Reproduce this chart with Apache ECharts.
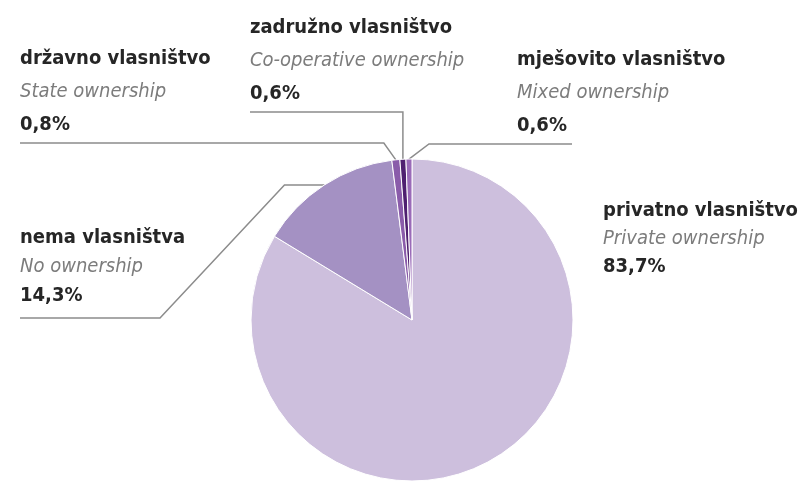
<!DOCTYPE html>
<html>
<head>
<meta charset="utf-8">
<script src="https://cdn.jsdelivr.net/npm/echarts@6/dist/echarts.min.js"></script>
<style>
html,body{margin:0;padding:0;background:#fff;}
#chart{width:799px;height:490px;}
</style>
</head>
<body>
<div id="chart"></div>
<script>
// Data
const namesHr = ['privatno vlasništvo', 'nema vlasništva', 'državno vlasništvo', 'zadružno vlasništvo', 'mješovito vlasništvo'];
const namesEn = ['Private ownership', 'No ownership', 'State ownership', 'Co-operative ownership', 'Mixed ownership'];
const values = [83.7, 14.3, 0.8, 0.6, 0.6];
const colors = ['#cdbfdd', '#a491c3', '#8a5caa', '#4f2070', '#9a6bb8'];

// Label layout (positions only)
const labelPos = [
  {x: 603, y: 197, lh: 28, line: 'none'},
  {x: 20, y: 223, lh: 29, line: 'nema'},
  {x: 20, y: 42, lh: 33, line: 'left'},
  {x: 250, y: 11, lh: 33, line: 'up'},
  {x: 517, y: 43, lh: 33, line: 'right'}
];

const FONT = "'Liberation Sans Narrow', 'DejaVu Sans Condensed', 'Roboto Condensed', sans-serif";
const fmtPct = v => v.toFixed(1).replace('.', ',') + '%';

const chart = echarts.init(document.getElementById('chart'), null, {renderer: 'canvas'});

const data = values.map((v, i) => ({
  value: v,
  name: namesHr[i],
  itemStyle: {color: colors[i]},
  labelLine: {show: labelPos[i].line !== 'none'},
  label: {
    rich: {
      a: {fontFamily: FONT, fontWeight: 'bold', fontSize: 20, color: '#262626', lineHeight: labelPos[i].lh},
      b: {fontFamily: FONT, fontStyle: 'italic', fontSize: 20, color: '#7c7c7c', lineHeight: labelPos[i].lh},
      c: {fontFamily: FONT, fontWeight: 'bold', fontSize: 20, color: '#262626', lineHeight: labelPos[i].lh}
    }
  }
}));

chart.setOption({
  animation: false,
  series: [{
    type: 'pie',
    center: [412, 320],
    radius: 161,
    startAngle: 90,
    clockwise: true,
    avoidLabelOverlap: false,
    itemStyle: {borderColor: '#ffffff', borderWidth: 1},
    label: {
      show: true,
      position: 'outside',
      align: 'left',
      formatter: p => '{a|' + namesHr[p.dataIndex] + '}\n{b|' + namesEn[p.dataIndex] + '}\n{c|' + fmtPct(values[p.dataIndex]) + '}'
    },
    labelLine: {show: true, lineStyle: {color: '#8c8c8c', width: 1.5}, length: 10, length2: 10},
    emphasis: {disabled: true},
    labelLayout: function (params) {
      const i = params.dataIndex;
      const lp = labelPos[i];
      const res = {x: lp.x, y: lp.y, align: 'left', verticalAlign: 'top'};
      const pts = params.labelLinePoints;
      if (pts && lp.line !== 'none') {
        const e = pts[0];
        const bottom = lp.y + lp.lh * 3 + 2;
        if (lp.line === 'left') {
          res.labelLinePoints = [e, [e[0] - 12, bottom], [lp.x, bottom]];
        } else if (lp.line === 'right') {
          res.labelLinePoints = [e, [e[0] + 20, bottom], [lp.x + 55, bottom]];
        } else if (lp.line === 'up') {
          res.labelLinePoints = [e, [e[0], bottom], [lp.x, bottom]];
        } else if (lp.line === 'nema') {
          res.labelLinePoints = [e, [e[0] - 40, e[1]], [lp.x + 140, bottom + 6], [lp.x, bottom + 6]];
        }
      }
      return res;
    },
    data: data
  }]
});
</script>
</body>
</html>
